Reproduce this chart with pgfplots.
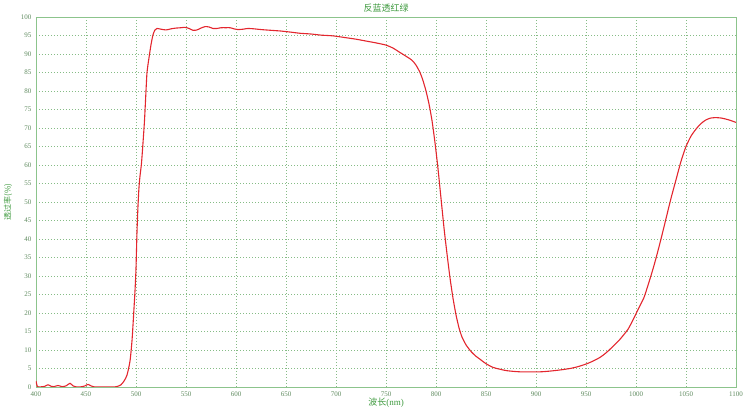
\documentclass[border=0pt]{standalone}
\usepackage{fontspec}
\setmainfont{Liberation Serif}
\newfontfamily\cjk{Noto Sans CJK SC}
\usepackage{pgfplots}
\pgfplotsset{compat=1.18}
\definecolor{curve}{HTML}{E3262E}
\definecolor{frame}{HTML}{8CC48C}
\definecolor{gridc}{HTML}{86BC86}
\definecolor{labc}{HTML}{3F9A3F}
\definecolor{tickc}{HTML}{5E8A5E}
\begin{document}
\begin{tikzpicture}
\path[use as bounding box] (0,0) rectangle (750pt,411pt);
\begin{axis}[
    at={(36pt,24pt)}, anchor=south west,
    scale only axis,
    width=700pt, height=370pt,
    xmin=400, xmax=1100, ymin=0, ymax=100,
    xtick={400,450,...,1100},
    ytick={0,5,...,100},
    grid=major,
    major grid style={gridc, line width=0.6pt, dash pattern=on 1pt off 2pt},
    axis line style={frame, line width=0.9pt},
    major tick length=0pt,
    /pgf/number format/assume math mode=true,
    /pgf/number format/1000 sep={},
    tick label style={font=\fontsize{7}{8}\selectfont, text=tickc},
    xticklabel style={yshift=-1pt},
    yticklabel style={xshift=-1pt},
    every axis title shift=0pt,
    title={\cjk 反蓝透红绿},
    title style={font=\cjk\fontsize{9}{10}\selectfont, text=labc,
        at={(axis description cs:0.5,1)}, anchor=center, yshift=9pt},
    xlabel={\cjk 波长\rmfamily(nm)},
    xlabel style={font=\fontsize{9}{10}\selectfont, text=labc,
        at={(axis description cs:0.5,0)}, anchor=center, yshift=-16pt},
    ylabel={\cjk 透过率(\%)},
    ylabel style={font=\fontsize{8}{9}\selectfont, text=labc,
        at={(axis description cs:0,0.5)}, anchor=center, yshift=28pt},
]
\addplot[curve, line width=1.1pt, smooth, tension=0.4] coordinates {
(400,1.6) (401.5,0.1) (405,0.05) (409,0.2) (412,0.6) (415,0.2) (418,0.1)
(422,0.4) (426,0.1) (430,0.3) (434,1.0) (437,0.3) (440,0.05) (445,0.05)
(449,0.3) (452,0.7) (455,0.3) (458,0.05) (470,0.0) (478,0.0) (482,0.2)
(485,0.6) (488,1.6) (491,3.2) (494,7.0) (496,12.5) (497.5,19) (499,26)
(500,32) (501,42) (502,49) (503,54) (504,57) (505.5,60.5) (507,66)
(508.5,72) (510,80) (511,85) (513,89) (515,92.5) (517,95.2) (519,96.5)
(521,96.9) (525,96.7) (530,96.5) (535,96.8) (540,97.0) (545,97.1)
(549,97.2) (553,96.9) (557,96.4) (561,96.5) (565,97.0) (569,97.4)
(573,97.3) (577,96.9) (581,96.9) (585,97.1) (590,97.1) (594,97.1)
(598,96.8) (602,96.6) (607,96.7) (612,96.9) (618,96.8) (625,96.6)
(635,96.4) (645,96.2) (655,95.9) (664,95.6) (675,95.4) (685,95.1)
(697,94.9) (710,94.4) (720,94.0) (730,93.5) (740,93.0) (750,92.4)
(757,91.6) (764,90.4) (770,89.4) (776,88.3) (780,87.0) (784,85.0)
(787,82.8) (790,80.0) (793,76.5) (796,72) (799,66) (802,59) (805,51)
(808,43) (811,36) (814,29.5) (817,24) (820,19.5) (823,16) (826,13.5)
(830,11.4) (835,9.6) (840,8.3) (844,7.5) (850,6.3) (857,5.3) (864,4.8)
(871,4.4) (884,4.1) (904,4.1) (914,4.3) (924,4.6) (934,5.0) (942,5.5)
(950,6.2) (957,7.0) (964,8.0) (969,9.0) (974,10.2) (979,11.5) (984,12.9)
(988,14.2) (992,15.6) (996,17.6) (1000,19.8) (1004,22) (1008,24.2)
(1012,27.5) (1016,31) (1020,34.8) (1025,40) (1030,45.5) (1035,51)
(1040,56) (1045,61) (1050,65) (1055,67.8) (1060,69.7) (1065,71.2)
(1070,72.2) (1075,72.7) (1080,72.8) (1085,72.7) (1090,72.4) (1095,72.0)
(1100,71.5)
};
\end{axis}
\end{tikzpicture}
\end{document}
